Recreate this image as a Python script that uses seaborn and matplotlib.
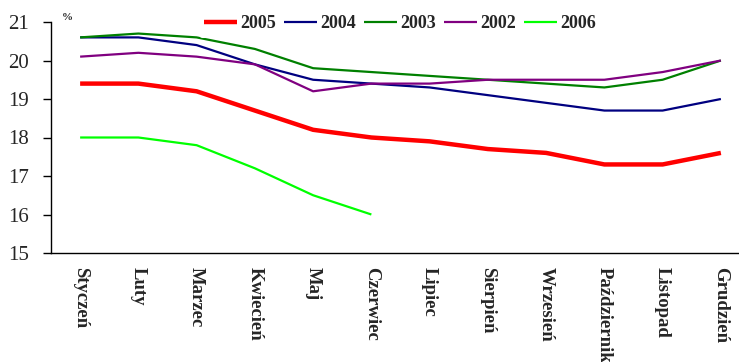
import matplotlib
matplotlib.use("Agg")
import matplotlib.pyplot as plt
import seaborn as sns
import pandas as pd
import numpy as np

months = ["Styczeń", "Luty", "Marzec", "Kwiecień", "Maj", "Czerwiec",
          "Lipiec", "Sierpień", "Wrzesień", "Październik", "Listopad", "Grudzień"]

y2005 = [19.4, 19.4, 19.2, 18.7, 18.2, 18.0, 17.9, 17.7, 17.6, 17.3, 17.3, 17.6]
y2004 = [20.6, 20.6, 20.4, 19.9, 19.5, 19.4, 19.3, 19.1, 18.9, 18.7, 18.7, 19.0]
y2003 = [20.6, 20.7, 20.6, 20.3, 19.8, 19.7, 19.6, 19.5, 19.4, 19.3, 19.5, 20.0]
y2002 = [20.1, 20.2, 20.1, 19.9, 19.2, 19.4, 19.4, 19.5, 19.5, 19.5, 19.7, 20.0]
y2006 = [18.0, 18.0, 17.8, 17.2, 16.5, 16.0]

series = [
    ("2005", y2005, "#ff0000", 3.2),
    ("2004", y2004, "#000080", 1.6),
    ("2003", y2003, "#008000", 1.6),
    ("2002", y2002, "#800080", 1.6),
    ("2006", y2006, "#00ff00", 1.6),
]

sns.set_style("white")
plt.rcParams["font.family"] = ["Liberation Serif", "DejaVu Serif"]

fig = plt.figure(figsize=(7.39, 3.62), dpi=100)
ax = fig.add_axes([51 / 739, 1 - 253 / 362, 699 / 739, 231 / 362])

xpos = np.arange(len(months))
for name, vals, color, lw in series:
    df = pd.DataFrame({"x": xpos[:len(vals)], "v": vals})
    sns.lineplot(data=df, x="x", y="v", ax=ax, color=color, linewidth=lw,
                 label=name, solid_capstyle="butt")

ax.set_xlim(-0.5, len(months) - 0.5)
ax.set_ylim(15, 21)
ax.set_yticks(range(15, 22))
ax.set_yticklabels([str(v) for v in range(15, 22)], fontsize=15)
ax.set_xticks(xpos)
ax.set_xticklabels(months, rotation=270, fontsize=13.5, fontweight="bold",
                   va="top", ha="center")
ax.set_xticks(np.arange(-0.5, len(months), 1.0), minor=True)
ax.tick_params(axis="x", which="major", length=0, pad=10)
ax.tick_params(axis="x", which="minor", length=5, width=1, direction="out",
               color="black")
ax.tick_params(axis="y", length=6, width=1, direction="out", color="black",
               left=True, pad=10)
ax.set_xlabel("")
ax.set_ylabel("")

for side in ["top", "right"]:
    ax.spines[side].set_visible(False)
for side in ["left", "bottom"]:
    ax.spines[side].set_color("black")
    ax.spines[side].set_linewidth(1)

ax.text(0.015, 1.0, "%", transform=ax.transAxes, fontsize=8, fontweight="bold",
        ha="left", va="bottom")

leg = ax.legend(loc="center left", bbox_to_anchor=(199 / 739, 1 - 24 / 362),
                bbox_transform=fig.transFigure, borderaxespad=0, ncol=5,
                frameon=True, handlelength=1.8, handletextpad=0.2,
                columnspacing=0.45, borderpad=0.3,
                prop={"family": "Liberation Serif", "weight": "bold", "size": 13})
leg.get_frame().set_facecolor("white")
leg.get_frame().set_edgecolor("none")
leg.get_frame().set_alpha(1.0)

fig.savefig("out.png", dpi=100)
